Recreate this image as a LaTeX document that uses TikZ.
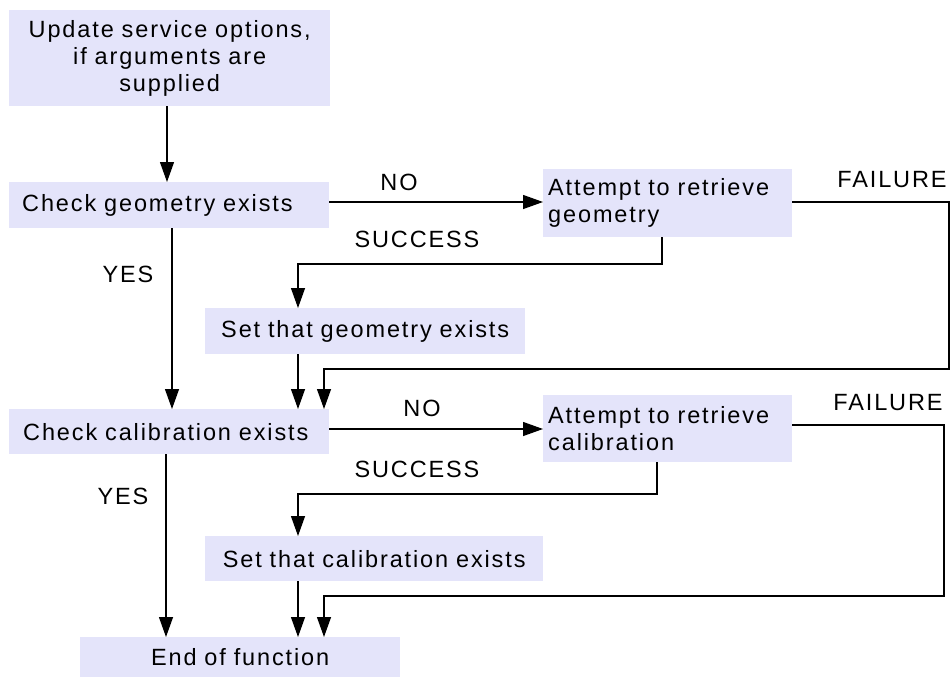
\documentclass[tikz,border=0pt]{standalone}
\usepackage{fontspec}
\setmainfont{Liberation Sans}[LetterSpace=8]
\usetikzlibrary{arrows.meta}
\definecolor{boxfill}{RGB}{228,228,250}
\begin{document}
\begin{tikzpicture}[x=1pt,y=-1pt,
  font=\fontsize{23.5}{27}\selectfont,
  stepbox/.style={fill=boxfill,draw=none,anchor=north west,inner ysep=0pt,
    minimum width=#1,text width=#1,inner xsep=0pt,align=center},
  leftbox/.style 2 args={fill=boxfill,draw=none,anchor=north west,inner ysep=0pt,
    inner xsep=#2,text width=#1-2*#2,align=left},
  link/.style={line width=1.3pt,-{Triangle[length=20pt,width=14pt]}},
  lbl/.style={inner sep=0pt}]
\useasboundingbox (0,0) rectangle (951,677);

% process boxes
\node[stepbox=321pt,minimum height=96pt] (b1) at (9,10)
  {Update service options,\\ if arguments are\\ supplied};
\node[leftbox={320pt}{13pt},minimum height=46pt] (b2) at (9,182) {Check geometry exists};
\node[leftbox={249pt}{5pt},minimum height=68pt] (b3) at (543,169) {Attempt to retrieve\\ geometry};
\node[stepbox=320pt,minimum height=46pt] (b4) at (205,308) {Set that geometry exists};
\node[leftbox={320pt}{14pt},minimum height=45pt] (b5) at (9,409) {Check calibration exists};
\node[leftbox={249pt}{5pt},minimum height=67pt] (b6) at (543,395) {Attempt to retrieve\\ calibration};
\node[stepbox=338pt,minimum height=45pt] (b7) at (205,536) {Set that calibration exists};
\node[stepbox=320pt,minimum height=40pt] (b8) at (80,637) {End of function};

% bend points of the routed connectors
\coordinate (f1) at (949,369);
\coordinate (s1) at (298,264);
\coordinate (f2) at (944,596);
\coordinate (s2) at (298,494);

% geometry stage
\draw[link] (167,0 |- b1.south) -- (167,0 |- b2.north);
\draw[link] (b2.east |- 0,202) -- (b3.west |- 0,202);
\draw[link] (b3.east |- 0,202) -| (f1) -| (324,0 |- b5.north);
\draw[link] (662,0 |- b3.south) |- (s1) -- (298,0 |- b4.north);
\draw[link] (172,0 |- b2.south) -- (172,0 |- b5.north);
\draw[link] (298,0 |- b4.south) -- (298,0 |- b5.north);

% calibration stage
\draw[link] (b5.east |- 0,429) -- (b6.west |- 0,429);
\draw[link] (b6.east |- 0,425) -| (f2) -| (324,0 |- b8.north);
\draw[link] (657,0 |- b6.south) |- (s2) -- (298,0 |- b7.north);
\draw[link] (166,0 |- b5.south) -- (166,0 |- b8.north);
\draw[link] (298,0 |- b7.south) -- (298,0 |- b8.north);

% branch labels
\node[lbl] (l1) at (399,182) {NO};
\node[lbl] (l2) at (892,180) {FAILURE};
\node[lbl] (l3) at (417,239) {SUCCESS};
\node[lbl] (l4) at (128,274) {YES};
\node[lbl] (l5) at (422,408) {NO};
\node[lbl] (l6) at (888,403) {FAILURE};
\node[lbl] (l7) at (417,469) {SUCCESS};
\node[lbl] (l8) at (123,496) {YES};
\end{tikzpicture}
\end{document}
